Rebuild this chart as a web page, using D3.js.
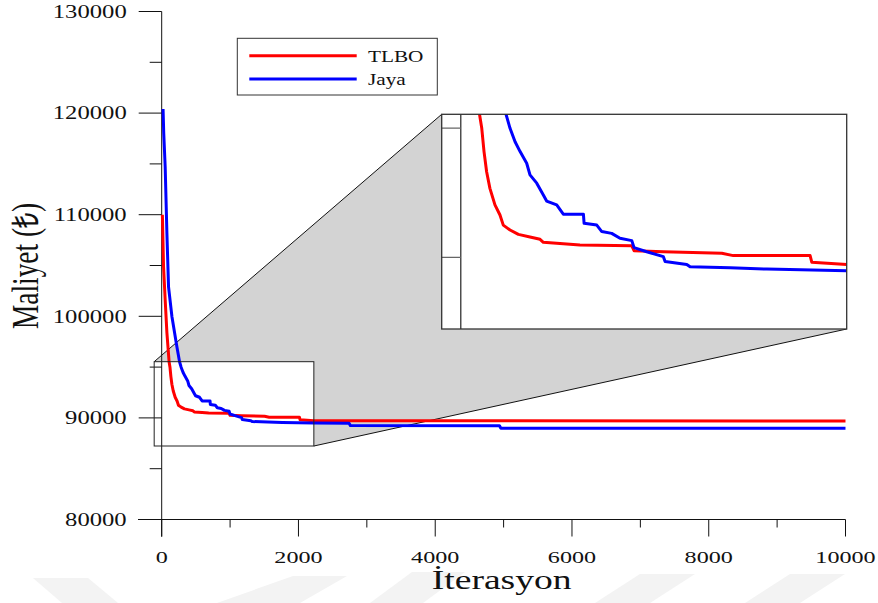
<!DOCTYPE html>
<html>
<head>
<meta charset="utf-8">
<script src="https://cdn.jsdelivr.net/npm/d3@7"></script>
<style>
  html, body { margin: 0; padding: 0; background: #fff; }
  svg { display: block; }
  text { font-family: "Liberation Serif", "Times New Roman", serif; fill: #111; }
</style>
</head>
<body>
<svg id="chart" width="878" height="603"></svg>
<script>
// --- data ---
const seriesNames = ["TLBO", "Jaya"]
const seriesColors = ["#ff0000", "#0000ff"]

const tlboIter = [10, 27, 51, 76, 108, 121, 134, 149, 168, 197, 226, 245, 284, 332, 399, 457, 476, 591, 687, 986, 999, 1168, 1505, 1571, 2014, 2024, 2225, 3000, 5000, 10000]
const tlboCost = [110000, 104900, 101600, 98400, 95530, 94990, 94090, 93310, 92670, 92030, 91640, 91250, 91060, 90890, 90790, 90700, 90585, 90530, 90480, 90450, 90260, 90220, 90160, 90070, 90070, 89810, 89730, 89720, 89710, 89700]

const jayaIter = [20, 30, 51, 76, 100, 150, 222, 261, 284, 313, 342, 380, 399, 438, 476, 495, 553, 591, 707, 711, 784, 813, 870, 918, 986, 999, 1072, 1168, 1178, 1303, 1322, 1553, 1764, 2225, 2740, 2760, 4940, 4960, 10000]
const jayaCost = [120400, 118000, 114700, 108200, 102900, 99960, 97000, 95530, 94990, 94470, 94090, 93640, 93190, 92870, 92410, 92180, 92030, 91670, 91670, 91320, 91250, 91000, 90930, 90740, 90650, 90380, 90220, 90030, 89840, 89730, 89640, 89600, 89550, 89490, 89470, 89240, 89230, 88980, 88970]

const xTicks = [0, 2000, 4000, 6000, 8000, 10000]
const xMinorTicks = [1000, 3000, 5000, 7000, 9000]
const yTicks = [80000, 90000, 100000, 110000, 120000, 130000]
const yMinorTicks = [85000, 95000, 105000, 115000, 125000]

// zoomed window (data units) shown in the inset
const zoomIter = [-110, 2225]
const zoomCost = [87234, 95532]

const series = [
  tlboIter.map((d, i) => ({ x: d, y: tlboCost[i] })),
  jayaIter.map((d, i) => ({ x: d, y: jayaCost[i] }))
]

// --- layout ---
const svg = d3.select("#chart")
const x = d3.scaleLinear().domain([0, 10000]).range([161.7, 845.5])
const y = d3.scaleLinear().domain([80000, 130000]).range([519.5, 11.5])

const inset = { x0: 441.7, x1: 846.7, y0: 114.3, y1: 329 }
const xIn = d3.scaleLinear().domain(zoomIter).range([inset.x0, inset.x1])
const yIn = d3.scaleLinear().domain(zoomCost).range([inset.y1, inset.y0])

// faint watermark at the bottom
const marks = [
  [[33, 578], [88, 578], [118, 603], [62, 603]],
  [[293, 576], [347, 576], [300, 603], [217, 603]],
  [[412, 572], [465, 572], [423, 603], [370, 603]],
  [[640, 574], [695, 574], [650, 603], [595, 603]],
  [[790, 574], [845, 574], [800, 603], [745, 603]]
]
svg.append("g").selectAll("polygon").data(marks).enter()
  .append("polygon")
  .attr("points", d => d.map(p => p.join(",")).join(" "))
  .attr("fill", "#f3f3f3")

// gray connector between small box and inset
const sb = { x0: x(zoomIter[0]), x1: x(zoomIter[1]), y0: y(zoomCost[1]), y1: y(zoomCost[0]) }
svg.append("polygon")
  .attr("points", [[sb.x0, sb.y0], [inset.x0, inset.y0], [inset.x1, inset.y1], [sb.x1, sb.y1]].map(p => p.join(",")).join(" "))
  .attr("fill", "#d3d3d3")
svg.append("line").attr("x1", sb.x0).attr("y1", sb.y0).attr("x2", inset.x0).attr("y2", inset.y0).attr("stroke", "#111").attr("stroke-width", 1)
svg.append("line").attr("x1", sb.x1).attr("y1", sb.y1).attr("x2", inset.x1).attr("y2", inset.y1).attr("stroke", "#111").attr("stroke-width", 1)
svg.append("rect").attr("x", sb.x0).attr("y", sb.y0).attr("width", sb.x1 - sb.x0).attr("height", sb.y1 - sb.y0).attr("fill", "#fff")
svg.append("rect").attr("x", inset.x0).attr("y", inset.y0).attr("width", inset.x1 - inset.x0).attr("height", inset.y1 - inset.y0).attr("fill", "#fff")

// --- axes ---
const axes = svg.append("g").attr("stroke", "#111").attr("stroke-width", 1)
axes.append("line").attr("x1", 138).attr("x2", x(10000)).attr("y1", y(80000)).attr("y2", y(80000))
axes.append("line").attr("x1", x(0)).attr("x2", x(0)).attr("y1", y(130000)).attr("y2", 536.7)
axes.selectAll(".yt").data(yTicks).enter().append("line")
  .attr("x1", x(0) - 23).attr("x2", x(0)).attr("y1", d => y(d)).attr("y2", d => y(d))
axes.selectAll(".ym").data(yMinorTicks).enter().append("line")
  .attr("x1", x(0) - 12).attr("x2", x(0)).attr("y1", d => y(d)).attr("y2", d => y(d))
axes.selectAll(".xt").data(xTicks).enter().append("line")
  .attr("x1", d => x(d)).attr("x2", d => x(d)).attr("y1", y(80000)).attr("y2", y(80000) + 17)
axes.selectAll(".xm").data(xMinorTicks).enter().append("line")
  .attr("x1", d => x(d)).attr("x2", d => x(d)).attr("y1", y(80000)).attr("y2", y(80000) + 8)

svg.append("g").selectAll("text").data(yTicks).enter().append("text")
  .attr("transform", d => `translate(126.7,${y(d) + 6.3}) scale(1.37,1)`)
  .attr("text-anchor", "end").attr("font-size", 18)
  .text(d => d)
svg.append("g").selectAll("text").data(xTicks).enter().append("text")
  .attr("transform", d => `translate(${x(d)},562.5) scale(1.38,1)`)
  .attr("text-anchor", "middle").attr("font-size", 17.5)
  .text(d => d)

svg.append("text")
  .attr("transform", "translate(38,266) scale(1.32,1) rotate(-90)")
  .attr("text-anchor", "middle").attr("font-size", 28)
  .attr("textLength", 126).attr("lengthAdjust", "spacingAndGlyphs")
  .text("Maliyet (₺)")
svg.append("text")
  .attr("transform", "translate(501.7,589.3)")
  .attr("text-anchor", "middle").attr("font-size", 27)
  .attr("textLength", 140).attr("lengthAdjust", "spacingAndGlyphs")
  .text("İterasyon")

// --- main curves ---
const line = d3.line().x(d => x(d.x)).y(d => y(d.y))
svg.append("g").selectAll("path").data(series).enter().append("path")
  .attr("d", line)
  .attr("fill", "none")
  .attr("stroke", (d, i) => seriesColors[i])
  .attr("stroke-width", 3)
  .attr("stroke-linejoin", "round")

svg.append("rect").attr("x", sb.x0).attr("y", sb.y0).attr("width", sb.x1 - sb.x0).attr("height", sb.y1 - sb.y0)
  .attr("fill", "none").attr("stroke", "#222").attr("stroke-width", 1)

// --- inset ---
svg.append("clipPath").attr("id", "clipInset").append("rect")
  .attr("x", inset.x0).attr("y", inset.y0).attr("width", inset.x1 - inset.x0).attr("height", inset.y1 - inset.y0)
const gin = svg.append("g").attr("clip-path", "url(#clipInset)")
gin.append("line").attr("x1", xIn(0)).attr("x2", xIn(0)).attr("y1", inset.y0).attr("y2", inset.y1)
  .attr("stroke", "#333").attr("stroke-width", 1.3)
gin.selectAll(".it").data(yTicks.concat(yMinorTicks)).enter().append("line")
  .attr("x1", inset.x0).attr("x2", xIn(0)).attr("y1", d => yIn(d)).attr("y2", d => yIn(d))
  .attr("stroke", "#666").attr("stroke-width", 1.3)
const lineIn = d3.line().x(d => xIn(d.x)).y(d => yIn(d.y))
gin.selectAll("path").data(series).enter().append("path")
  .attr("d", lineIn)
  .attr("fill", "none")
  .attr("stroke", (d, i) => seriesColors[i])
  .attr("stroke-width", 3)
  .attr("stroke-linejoin", "round")
svg.append("rect").attr("x", inset.x0).attr("y", inset.y0).attr("width", inset.x1 - inset.x0).attr("height", inset.y1 - inset.y0)
  .attr("fill", "none").attr("stroke", "#333").attr("stroke-width", 1.3)

// --- legend ---
const leg = svg.append("g")
leg.append("rect").attr("x", 237.3).attr("y", 38.3).attr("width", 200).attr("height", 56.7)
  .attr("fill", "#fff").attr("stroke", "#333").attr("stroke-width", 1)
const items = leg.selectAll(".li").data(seriesNames).enter().append("g")
  .attr("transform", (d, i) => `translate(0,${55.7 + i * 23.3})`)
items.append("line").attr("x1", 249.3).attr("x2", 356.7).attr("y1", 0).attr("y2", 0)
  .attr("stroke", (d, i) => seriesColors[i]).attr("stroke-width", 3)
items.append("text")
  .attr("transform", "translate(368,6) scale(1.25,1)")
  .attr("font-size", 17)
  .text(d => d)
</script>
</body>
</html>
